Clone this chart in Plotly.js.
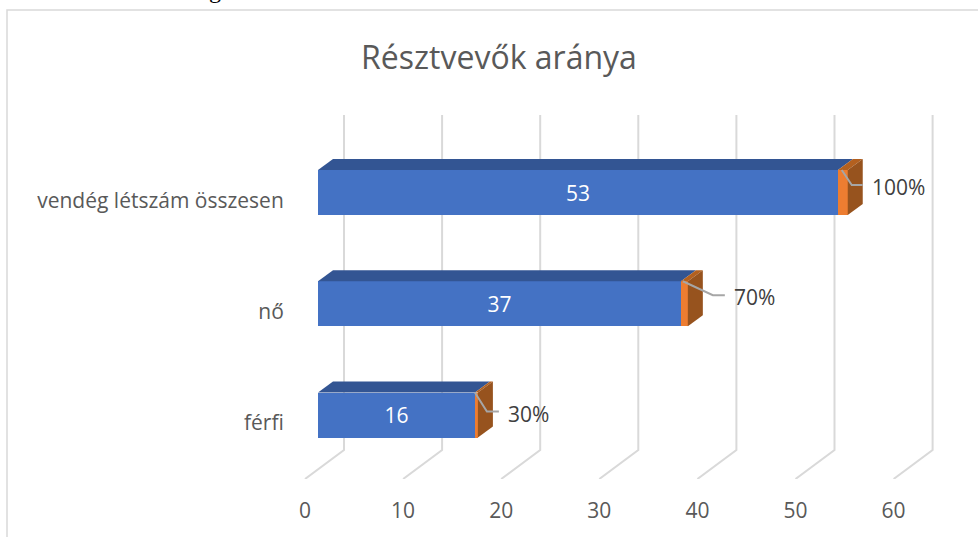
<!DOCTYPE html>
<html><head><meta charset="utf-8">
<script src="https://cdn.plot.ly/plotly-3.0.1.min.js"></script>
<style>html,body{margin:0;padding:0;background:#fff;overflow:hidden}#c{width:978px;height:537px}</style>
</head><body><div id="c"></div>
<script>
const categories = ["férfi", "nő", "vendég létszám összesen"];
const counts = [16, 37, 53];
const shares = [0.3, 0.7, 1];
const shareLabels = ["30%", "70%", "100%"];
const ticks = [0, 10, 20, 30, 40, 50, 60];

const FONT = 'Open Sans';
const W = 978, H = 537, L = 290, R = 945, T = 115, B = 479;
const pxPerUnit = 9.81, pxPerCat = 111.25;
const x0 = 318, yCat0 = 415;
const dx = 15 / pxPerUnit, dy = 11 / pxPerCat;
const half = 22.5 / pxPerCat;
const backDx = 26 / pxPerUnit, frontDx = -13 / pxPerUnit;
const floorY = (yCat0 - 450) / pxPerCat;
const xRange = [(L - x0) / pxPerUnit, (R - x0) / pxPerUnit];
const yRange = [(yCat0 - B) / pxPerCat, (yCat0 - T) / pxPerCat];
const labelDrop = 8 / pxPerCat;
const idx = categories.map((_, i) => i);

function poly(pts, color) {
  return {type:'scatter', mode:'lines', x:pts.map(p=>p[0]), y:pts.map(p=>p[1]), fill:'toself',
    fillcolor:color, line:{width:0, color:color}, hoverinfo:'skip', showlegend:false};
}
const gridShapes = ticks.map(t => ({type:'path', xref:'x', yref:'y', layer:'below',
  path:`M${t+backDx},${yRange[1]} L${t+backDx},${floorY} L${t+frontDx},${yRange[0]}`,
  line:{color:'#d9d9d9', width:2}}));

const traces = [];
idx.forEach(i => {
  const c = counts[i], s = shares[i], e = c + s;
  traces.push(poly([[0,i+half],[dx,i+half+dy],[c+dx,i+half+dy],[c,i+half]], '#335593'));
  traces.push(poly([[c,i+half],[c+dx,i+half+dy],[e+dx,i+half+dy],[e,i+half]], '#b3601f'));
  traces.push(poly([[e,i+half],[e+dx,i+half+dy],[e+dx,i-half+dy],[e,i-half]], '#97531e'));
});
traces.push({type:'bar', orientation:'h', y:idx, x:counts, width:45/pxPerCat, marker:{color:'#4472c4', line:{width:0}},
  text:counts.map(String), textposition:'inside', insidetextanchor:'middle', textangle:0,
  textfont:{family:FONT, size:21, color:'#ffffff'}, hoverinfo:'skip', showlegend:false});
traces.push({type:'bar', orientation:'h', y:idx, x:shares, width:45/pxPerCat, marker:{color:'#ed7d31', line:{width:0}},
  hoverinfo:'skip', showlegend:false});

// leader lines, pixel offsets from the bar's top-front end corner
const leaderStart = [[-3,0],[-5,0],[-6,0]];
const leaderElbow = [[9,19],[25,14],[4,15]];
const leaderEnd = [[21,19],[37,14],[15,15]];
const lx = [], ly = [], annotations = [];
idx.forEach(i => {
  const e = counts[i] + shares[i], top = i + half;
  const px = (a) => e + a[0] / pxPerUnit, py = (a) => top - a[1] / pxPerCat;
  lx.push(px(leaderStart[i]), px(leaderElbow[i]), px(leaderEnd[i]), null);
  ly.push(py(leaderStart[i]), py(leaderElbow[i]), py(leaderEnd[i]), null);
  annotations.push({xref:'x', yref:'y', x:px(leaderEnd[i]) + 7 / pxPerUnit, y:py(leaderEnd[i]) - 2 / pxPerCat, text:shareLabels[i],
    showarrow:false, xanchor:'left', yanchor:'middle', font:{family:FONT, size:21, color:'#404040'}});
});
annotations.push({xref:'paper', yref:'paper', x:(215-L)/(R-L), y:(B+10)/(B-T), text:'g', showarrow:false,
  xanchor:'center', yanchor:'middle', font:{family:'Liberation Serif', size:24, color:'#000'}});
traces.push({type:'scatter', mode:'lines', x:lx, y:ly, line:{color:'#a6a6a6', width:2}, hoverinfo:'skip', showlegend:false});
// invisible carriers for the printed labels, which sit on the floor's front edge
traces.push({type:'scatter', mode:'markers', xaxis:'x2', yaxis:'y', x:ticks, y:ticks.map(()=>yRange[0]), marker:{opacity:0}, hoverinfo:'skip', showlegend:false});
traces.push({type:'scatter', mode:'markers', xaxis:'x', yaxis:'y2', x:idx.map(()=>0), y:idx, marker:{opacity:0}, hoverinfo:'skip', showlegend:false});

const tf = {family:FONT, size:21, color:'#595959'};
const layout = {
  width:W, height:H, paper_bgcolor:'#fff', plot_bgcolor:'rgba(0,0,0,0)', showlegend:false, barmode:'stack',
  margin:{l:L, r:W-R, t:T, b:H-B, pad:0},
  font:{family:FONT, color:'#595959'},
  title:{text:'Résztvevők aránya', x:499/W, xanchor:'center', y:1-58/H, yanchor:'middle', font:{family:FONT, size:32, color:'#595959'}},
  xaxis:{range:xRange, showgrid:false, zeroline:false, showline:false, showticklabels:false, ticks:''},
  xaxis2:{overlaying:'x', side:'bottom', anchor:'y', range:[(L-305)/pxPerUnit,(R-305)/pxPerUnit], tickmode:'array', tickvals:ticks, ticktext:ticks.map(String),
    showgrid:false, zeroline:false, showline:false, ticks:'outside', ticklen:13, tickcolor:'rgba(0,0,0,0)', tickfont:tf},
  yaxis:{range:yRange, showticklabels:false, showgrid:false, zeroline:false, showline:false, ticks:''},
  yaxis2:{overlaying:'y', side:'left', anchor:'x', range:[yRange[0]+labelDrop, yRange[1]+labelDrop], tickmode:'array', tickvals:idx, ticktext:categories,
    showgrid:false, zeroline:false, showline:false, ticks:'outside', ticklen:1, tickcolor:'rgba(0,0,0,0)', tickfont:tf},
  annotations:annotations,
  shapes:gridShapes.concat([
    {type:'rect', xref:'paper', yref:'paper', x0:(7-L)/(R-L), x1:(990-L)/(R-L), y0:(B-545)/(B-T), y1:(B-10)/(B-T), line:{color:'#d9d9d9', width:1.5}, layer:'below'}
  ])
};
Plotly.newPlot('c', traces, layout, {displayModeBar:false, staticPlot:true});
</script></body></html>
